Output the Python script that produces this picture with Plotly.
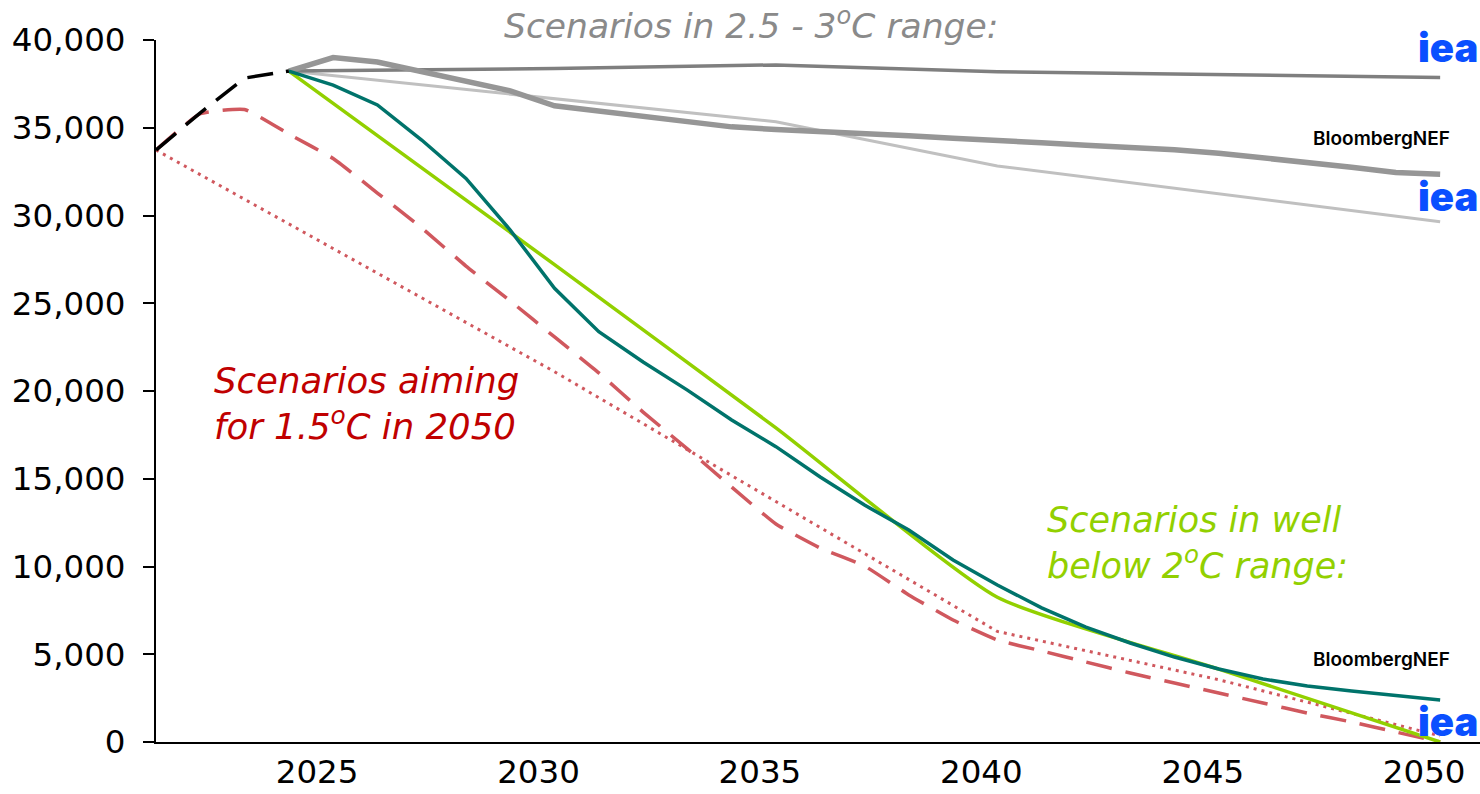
import plotly.graph_objects as go

# historic (black dashed)
hist_years = [2021, 2022, 2023, 2024]
hist_vals = [33730, 35850, 37830, 38230]

# 2.5 - 3C range
iea_steps_years = [2024, 2030, 2035, 2040, 2050]
iea_steps_vals = [38230, 38370, 38580, 38190, 37870]

bnef_years = list(range(2024, 2051))
bnef_etsv_vals = [38230, 39000, 38750, 38200, 37650, 37100, 36250, 35950, 35700, 35350,
                  35050, 34900, 34800, 34650, 34550, 34400, 34300, 34150, 34000, 33900,
                  33750, 33550, 33300, 33050, 32750, 32450, 32350]

iea_aps_years = [2024, 2030, 2035, 2040, 2050]
iea_aps_vals = [38230, 36650, 35340, 32820, 29650]

# well below 2C
iea_wb2_years = [2024, 2030, 2035, 2040, 2045, 2050]
iea_wb2_vals = [38230, 27200, 17900, 8250, 4150, 0]

bnef_wb2_vals = [38230, 37430, 36300, 34300, 32110, 29170, 25850, 23380, 21650, 20050,
                 18350, 16830, 15100, 13500, 12080, 10370, 8950, 7640, 6550, 5640,
                 4840, 4160, 3590, 3190, 2900, 2620, 2390]

# 1.5C
nze_years = list(range(2021, 2051))
bnef_nzs_vals = [33730, 35800, 36040, 34640, 33250, 31280, 29290, 27120, 25130, 23080,
                 21030, 18800, 16700, 14530, 12420, 11050, 10030, 8380, 6950, 5810,
                 5190, 4560, 3930, 3360, 2790, 2220, 1650, 1140, 570, 0]

iea_nze_years = [2021, 2030, 2035, 2040, 2045, 2050]
iea_nze_vals = [33730, 21100, 13700, 6300, 3550, 350]

xticks = [2025, 2030, 2035, 2040, 2045, 2050]
yticks = [0, 5000, 10000, 15000, 20000, 25000, 30000, 35000, 40000]

FONT = "DejaVu Sans"

fig = go.Figure()

fig.add_trace(go.Scatter(x=iea_aps_years, y=iea_aps_vals, mode="lines",
                         line=dict(color="#c0c0c0", width=3)))
fig.add_trace(go.Scatter(x=iea_steps_years, y=iea_steps_vals, mode="lines",
                         line=dict(color="#7f7f7f", width=3.5)))
fig.add_trace(go.Scatter(x=bnef_years, y=bnef_etsv_vals, mode="lines",
                         line=dict(color="#969696", width=5.5)))
fig.add_trace(go.Scatter(x=iea_nze_years, y=iea_nze_vals, mode="lines",
                         line=dict(color="#d0585e", width=3, dash="3px,5px")))
fig.add_trace(go.Scatter(x=nze_years, y=bnef_nzs_vals, mode="lines",
                         line=dict(color="#d0585e", width=3.5, dash="26px,14px", shape="spline", smoothing=0.4)))
fig.add_trace(go.Scatter(x=iea_wb2_years, y=iea_wb2_vals, mode="lines",
                         line=dict(color="#92d000", width=3.5, shape="spline", smoothing=0.5)))
fig.add_trace(go.Scatter(x=bnef_years, y=bnef_wb2_vals, mode="lines",
                         line=dict(color="#00736b", width=3.5)))
fig.add_trace(go.Scatter(x=hist_years, y=hist_vals, mode="lines",
                         line=dict(color="black", width=3.5, dash="26px,13px")))

annos = []
annos.append(dict(x=0.4494, y=1.057, xref="paper", yref="paper", showarrow=False,
                  text="Scenarios in 2.5 - 3<sup>o</sup>C range:",
                  font=dict(family=FONT, size=34.5, color="#8a8a8a", style="italic")))
annos.append(dict(x=2022.26, y=19300, xref="x", yref="y", showarrow=False, xanchor="left",
                  align="left", text="Scenarios aiming<br>for 1.5<sup>o</sup>C in 2050",
                  font=dict(family=FONT, size=35.5, color="#c00000", style="italic")))
annos.append(dict(x=2041.08, y=11340, xref="x", yref="y", showarrow=False, xanchor="left",
                  align="left", text="Scenarios in well<br>below 2<sup>o</sup>C range:",
                  font=dict(family=FONT, size=35, color="#92d000", style="italic")))
for yv in [34370, 4700]:
    annos.append(dict(x=(1452 - 156) / 1324, y=yv, xref="paper", yref="y", showarrow=False,
                      xanchor="right", text="BloombergNEF",
                      font=dict(family="Inter", size=19, color="black", weight=600)))
for yv in [39600, 31110, 1140]:
    annos.append(dict(x=1.0, y=yv, xref="paper", yref="y", showarrow=False, xanchor="right",
                      text="iea",
                      font=dict(family="Inter", size=40, color="#0a4fff", weight=900)))

fig.update_layout(
    width=1480, height=794,
    margin=dict(l=156, r=0, t=40, b=52),
    paper_bgcolor="white", plot_bgcolor="white",
    showlegend=False,
    annotations=annos,
    font=dict(family=FONT, color="black"),
)
fig.update_xaxes(range=[2021, 2050.9], showgrid=False, zeroline=False,
                 showline=True, linecolor="black", linewidth=2,
                 tickvals=xticks, ticks="", tickfont=dict(size=32.5, family=FONT),
                 ticklabelshift=-16)
fig.update_yaxes(range=[0, 40000], showgrid=False, zeroline=False,
                 showline=True, linecolor="black", linewidth=2,
                 tickvals=yticks, tickformat=",", ticks="outside", ticklen=11,
                 tickwidth=2, tickcolor="black", tickfont=dict(size=32.5, family=FONT),
                 ticklabelstandoff=11)

fig.write_html("out.html", config={"displayModeBar": False},
               post_script="document.body.style.margin='0px';")
